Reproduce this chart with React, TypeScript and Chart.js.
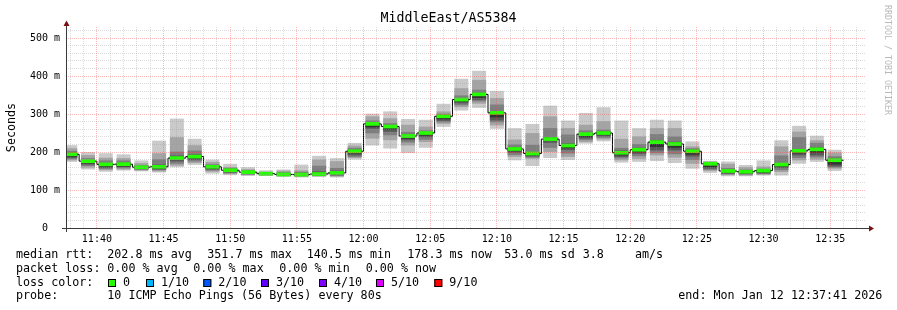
import { useEffect, useRef } from 'react';
import { Chart, registerables } from 'chart.js';

Chart.register(...registerables);

// ---------- text ----------
const TITLE = 'MiddleEast/AS5384';
const Y_TITLE = 'Seconds';
const WATERMARK = 'RRDTOOL / TOBI OETIKER';

// ---------- time axis ----------
const VIEW_START = '11:37:41';
const VIEW_END = '12:37:41';
const FIRST_STEP_START = '11:37:20';
const STEP_SECONDS = 80;

// ---------- y axis ----------
const Y_MAX = 529;
const Y_MINOR_STEP = 20;
const Y_MAJOR_STEP = 100;
const Y_LAST_TICK = 520;

// ---------- sorted ping RTTs per 80 s step (ms) ----------
const PING1 = [175, 155, 149, 152, 150, 147, 161, 167, 144, 140, 138, 138, 135, 134, 135, 134, 181, 218, 210, 198, 212, 267, 310, 317, 262, 179, 164, 185, 180, 223, 229, 173, 175, 177, 172, 157, 146, 137, 137, 139, 139, 170, 175, 151];
const PING2 = [179, 160, 153, 155, 152, 150, 165, 172, 149, 143, 140, 139, 137, 136, 137, 136, 185, 236, 232, 218, 227, 275, 319, 328, 271, 188, 183, 201, 188, 227, 234, 179, 183, 192, 186, 170, 151, 140, 139, 141, 148, 179, 181, 157];
const PING3 = [182, 164, 156, 158, 154, 153, 170, 176, 152, 145, 141, 140, 138, 137, 138, 138, 188, 250, 245, 226, 233, 279, 324, 334, 279, 193, 186, 212, 197, 232, 238, 184, 190, 198, 195, 180, 154, 142, 141, 143, 153, 185, 187, 160];
const PING4 = [185, 168, 159, 161, 156, 155, 176, 180, 155, 147, 143, 141, 139, 138, 139, 140, 192, 262, 254, 232, 240, 283, 329, 338, 284, 199, 189, 225, 206, 236, 242, 188, 196, 205, 205, 189, 157, 144, 143, 145, 159, 192, 192, 163];
const PING5 = [188, 171, 162, 163, 157, 157, 180, 184, 157, 149, 145, 142, 140, 139, 140, 142, 197, 266, 260, 236, 244, 287, 333, 343, 292, 203, 192, 230, 211, 240, 245, 192, 200, 214, 212, 194, 161, 146, 145, 147, 162, 197, 199, 168];
const PING6 = [191, 174, 165, 166, 159, 160, 183, 187, 160, 151, 147, 143, 141, 140, 142, 145, 200, 270, 264, 239, 247, 290, 336, 347, 299, 206, 194, 233, 215, 244, 248, 195, 203, 222, 218, 199, 165, 148, 147, 149, 165, 201, 204, 174];
const PING7 = [197, 178, 170, 171, 162, 166, 190, 193, 164, 154, 149, 144, 143, 142, 148, 150, 205, 276, 268, 245, 251, 296, 341, 355, 306, 212, 199, 238, 222, 249, 254, 203, 210, 230, 226, 205, 170, 153, 150, 152, 170, 207, 211, 181];
const PING8 = [202, 183, 177, 177, 165, 180, 200, 203, 167, 157, 151, 145, 146, 147, 163, 157, 210, 282, 275, 252, 256, 300, 348, 363, 324, 219, 218, 262, 245, 256, 258, 210, 220, 246, 240, 209, 172, 157, 153, 155, 190, 238, 223, 188];
const PING9 = [209, 191, 184, 183, 170, 196, 238, 217, 173, 160, 154, 147, 150, 151, 179, 175, 216, 293, 288, 271, 266, 306, 367, 389, 341, 232, 249, 293, 262, 271, 280, 234, 240, 262, 262, 214, 174, 168, 159, 161, 214, 253, 230, 198];
const PING10 = [217, 199, 196, 193, 177, 229, 287, 234, 179, 168, 159, 151, 153, 166, 189, 183, 223, 300, 306, 286, 284, 326, 392, 413, 360, 262, 273, 321, 282, 302, 317, 282, 262, 284, 282, 227, 176, 174, 165, 177, 230, 268, 242, 205];
const MEDIAN = [194, 176, 167.5, 168, 160, 161, 184, 188, 161, 152, 147, 143, 141, 140.5, 142, 145, 202, 274, 267, 242, 250, 294, 338, 351.7, 303, 208, 196, 234, 217, 247, 250, 198, 206, 226, 221, 202, 169, 150, 148, 151, 167, 203, 207, 178.3];

// ---------- legend ----------
const RTT_LINE = [
  { x: 16, text: 'median rtt:' },
  { x: 107.3, text: '202.8 ms avg' },
  { x: 207.3, text: '351.7 ms max' },
  { x: 306.7, text: '140.5 ms min' },
  { x: 407.3, text: '178.3 ms now' },
  { x: 504.3, text: '53.0 ms sd' },
  { x: 582.7, text: '3.8' },
  { x: 635, text: 'am/s' },
];
const LOSS_LINE = [
  { x: 16, text: 'packet loss:' },
  { x: 107.3, text: '0.00 % avg' },
  { x: 193.3, text: '0.00 % max' },
  { x: 279.3, text: '0.00 % min' },
  { x: 365.7, text: '0.00 % now' },
];
const LOSS_COLOR_TITLE = 'loss color:';
const LOSS_LABELS = ['0', '1/10', '2/10', '3/10', '4/10', '5/10', '9/10'];
const LOSS_COLORS = ['#26ff00', '#00b8ff', '#0059ff', '#5e00ff', '#7e00ff', '#dd00ff', '#ff0000'];
const LOSS_BOX_X = [108, 146, 203.3, 261, 319, 376, 434.3];
const PROBE_TITLE = 'probe:';
const PROBE_TEXT = '10 ICMP Echo Pings (56 Bytes) every 80s';
const END_TEXT = 'end: Mon Jan 12 12:37:41 2026';

// ---------- styles ----------
const SMOKE_COLORS = ['#cacaca', '#a4a4a4', '#7e7e7e', '#585858', '#323232'];
const GREEN_HALF = 4;
const MONO = "'DejaVu Sans Mono', monospace";
const GRID_MINOR = 'rgba(150,150,150,0.34)';
const GRID_MAJOR = 'rgba(255,60,60,0.36)';
const AXIS_COLOR = '#3a3a3a';
const ARROW_COLOR = '#7a1010';

const toSec = (hms: string) => {
  const [h, m, s] = hms.split(':').map(Number);
  return h * 3600 + m * 60 + (s || 0);
};
const pad2 = (n: number) => String(n).padStart(2, '0');
const fmtTime = (sec: number) => `${pad2(Math.floor(sec / 3600))}:${pad2(Math.floor((sec % 3600) / 60))}`;

const PINGS = [PING1, PING2, PING3, PING4, PING5, PING6, PING7, PING8, PING9, PING10];

const decorPlugin = {
  id: 'decor',
  afterDraw(chart: any) {
    const ctx: CanvasRenderingContext2D = chart.ctx;
    const a = chart.chartArea;
    const W = chart.width;
    ctx.save();

    // axes
    ctx.strokeStyle = AXIS_COLOR;
    ctx.lineWidth = 1;
    const ax = Math.round(a.left) + 0.5;
    const ay = Math.round(a.bottom) + 0.5;
    ctx.beginPath();
    ctx.moveTo(ax, ay + 3.5);
    ctx.lineTo(ax, a.top - 3);
    ctx.moveTo(ax - 4.5, ay);
    ctx.lineTo(a.right + 3, ay);
    ctx.stroke();

    // arrows
    ctx.fillStyle = ARROW_COLOR;
    ctx.beginPath();
    ctx.moveTo(ax - 3, a.top - 1);
    ctx.lineTo(ax + 3, a.top - 1);
    ctx.lineTo(ax, a.top - 6.5);
    ctx.closePath();
    ctx.fill();
    ctx.beginPath();
    ctx.moveTo(a.right + 3, ay - 3);
    ctx.lineTo(a.right + 3, ay + 3);
    ctx.lineTo(a.right + 8, ay);
    ctx.closePath();
    ctx.fill();

    // title
    ctx.fillStyle = '#000';
    ctx.textBaseline = 'middle';
    ctx.textAlign = 'center';
    ctx.font = `13.3px ${MONO}`;
    ctx.fillText(TITLE, W / 2, 19);

    // y title
    ctx.save();
    ctx.translate(11.5, (a.top + a.bottom) / 2);
    ctx.rotate(-Math.PI / 2);
    ctx.font = `11.7px ${MONO}`;
    ctx.fillText(Y_TITLE, 0, 0);
    ctx.restore();

    // watermark
    ctx.save();
    ctx.translate(887.5, 5);
    ctx.rotate(Math.PI / 2);
    ctx.textAlign = 'left';
    ctx.fillStyle = '#b8b8b8';
    ctx.font = `8.3px ${MONO}`;
    ctx.fillText(WATERMARK, 0, 0);
    ctx.restore();

    // legend
    ctx.textAlign = 'left';
    ctx.font = `11.7px ${MONO}`;
    ctx.fillStyle = '#000';
    RTT_LINE.forEach((s) => ctx.fillText(s.text, s.x, 254.5));
    LOSS_LINE.forEach((s) => ctx.fillText(s.text, s.x, 268.5));
    ctx.fillText(LOSS_COLOR_TITLE, 16, 282.5);
    LOSS_LABELS.forEach((lab, i) => {
      const bx = LOSS_BOX_X[i];
      ctx.fillStyle = LOSS_COLORS[i];
      ctx.fillRect(bx, 279, 8, 8);
      ctx.strokeStyle = '#000';
      ctx.strokeRect(bx + 0.5, 279.5, 7, 7);
      ctx.fillStyle = '#000';
      ctx.fillText(lab, bx + 15, 282.5);
    });
    ctx.fillText(PROBE_TITLE, 16, 296);
    ctx.fillText(PROBE_TEXT, 107.3, 296);
    ctx.fillText(END_TEXT, 678.3, 296);

    ctx.restore();
  },
};

export default function App() {
  const ref = useRef<HTMLCanvasElement>(null);

  useEffect(() => {
    document.body.style.margin = '0';
    const canvas = ref.current;
    if (!canvas) return;

    const t0 = toSec(FIRST_STEP_START);
    const xMin = toSec(VIEW_START);
    const xMax = toSec(VIEW_END);
    const n = MEDIAN.length;
    const centers = MEDIAN.map((_, k) => t0 + STEP_SECONDS * k + STEP_SECONDS / 2);

    const barCommon = {
      type: 'bar' as const,
      borderWidth: 0,
      grouped: false,
      barPercentage: 1,
      categoryPercentage: 1,
      clip: 0,
    };

    const smokeSets = SMOKE_COLORS.map((color, i) => ({
      ...barCommon,
      label: `smoke ${i + 1}`,
      data: centers.map((x, k) => ({ x, y: [PINGS[i][k], PINGS[9 - i][k]] })),
      backgroundColor: color,
      order: 6 - i,
    }));

    const greenSet = {
      ...barCommon,
      label: 'median',
      data: centers.map((x, k) => ({ x, y: [MEDIAN[k] - GREEN_HALF, MEDIAN[k] + GREEN_HALF] })),
      backgroundColor: LOSS_COLORS[0],
      order: 0,
    };

    const lineData = MEDIAN.map((m, k) => ({ x: t0 + STEP_SECONDS * k, y: m }));
    lineData.push({ x: t0 + STEP_SECONDS * n, y: MEDIAN[n - 1] });
    const lineSet = {
      type: 'line' as const,
      label: 'median line',
      data: lineData,
      borderColor: '#000',
      borderWidth: 1,
      pointRadius: 0,
      fill: false,
      stepped: 'before' as const,
      order: 1,
      clip: 0,
    };

    const chart = new Chart(canvas, {
      type: 'bar',
      data: { datasets: [greenSet, lineSet, ...smokeSets] as any },
      options: {
        animation: false,
        responsive: false,
        devicePixelRatio: 1,
        events: [],
        layout: { padding: { left: 0, right: 31, top: 27, bottom: 0 } },
        plugins: {
          legend: { display: false },
          tooltip: { enabled: false },
          title: { display: false },
        },
        scales: {
          x: {
            type: 'linear',
            min: xMin,
            max: xMax,
            offset: false,
            afterFit: (s: any) => {
              s.height = 82;
            },
            afterBuildTicks: (s: any) => {
              const ticks = [];
              for (let t = Math.ceil(xMin / 60) * 60; t <= xMax; t += 60) ticks.push({ value: t });
              s.ticks = ticks;
            },
            ticks: {
              autoSkip: false,
              maxRotation: 0,
              minRotation: 0,
              padding: 5,
              color: '#000',
              font: { family: MONO, size: 10 },
              callback: (v: any) => (Number(v) % 300 === 0 ? fmtTime(Number(v)) : ''),
            },
            grid: {
              offset: false,
              z: 1,
              drawTicks: false,
              lineWidth: 1,
              color: (c: any) => (c.tick && c.tick.value % 300 === 0 ? GRID_MAJOR : GRID_MINOR),
            },
            border: { display: false, dash: [1, 1] },
          },
          y: {
            type: 'linear',
            min: 0,
            max: Y_MAX,
            afterFit: (s: any) => {
              s.width = 66;
            },
            afterBuildTicks: (s: any) => {
              const ticks = [];
              for (let v = 0; v <= Y_LAST_TICK; v += Y_MINOR_STEP) ticks.push({ value: v });
              s.ticks = ticks;
            },
            ticks: {
              autoSkip: false,
              padding: 6,
              color: '#000',
              font: { family: MONO, size: 10 },
              callback: (v: any) => {
                const val = Number(v);
                if (val % Y_MAJOR_STEP !== 0) return '';
                return val === 0 ? '0  ' : `${val} m`;
              },
            },
            grid: {
              z: 1,
              drawTicks: false,
              lineWidth: 1,
              color: (c: any) => (c.tick && c.tick.value % Y_MAJOR_STEP === 0 ? GRID_MAJOR : GRID_MINOR),
            },
            border: { display: false, dash: [1, 1] },
          },
        },
      } as any,
      plugins: [decorPlugin],
    });

    return () => chart.destroy();
  }, []);

  return (
    <div style={{ position: 'absolute', left: 0, top: 0, width: 897, height: 310, background: '#fff' }}>
      <canvas ref={ref} width={897} height={310} style={{ width: 897, height: 310, display: 'block' }} />
    </div>
  );
}
